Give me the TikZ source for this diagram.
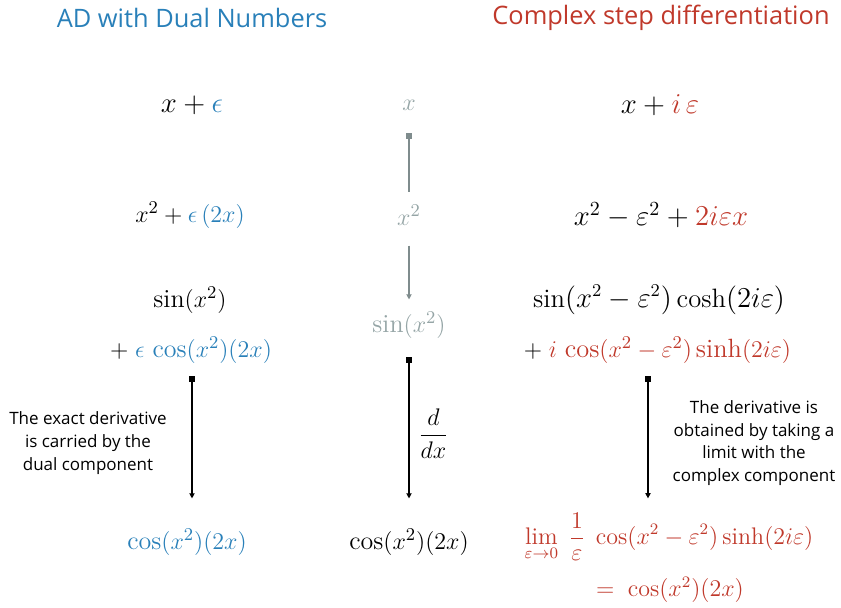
\documentclass[tikz,border=0pt]{standalone}
\usepackage{amsmath}
\usepackage{xcolor}
\usepackage{fontspec}
\setsansfont{Open Sans}
\usepackage{tikz}
\usetikzlibrary{arrows.meta}
\definecolor{ink}{RGB}{0,0,0}
\definecolor{dualblue}{RGB}{41,128,185}
\definecolor{cxred}{RGB}{192,57,43}
\definecolor{muted}{RGB}{149,165,166}
\definecolor{mutedline}{RGB}{127,140,141}
\tikzset{
  expr/.style     ={font=\fontsize{#1}{16}\selectfont, inner sep=2pt, align=center},
  expr/.default   =13,
  mutedexpr/.style={expr, color=muted},
  limexpr/.style  ={expr=12, color=cxred},
  title/.style    ={font=\sffamily\fontsize{12.7}{15}\selectfont},
  notelabel/.style={font=\sffamily\fontsize{8.5}{11.3}\selectfont, align=center, color=ink},
  arr/.style      ={{Square[length=3pt,width=3pt]}-{Triangle[length=2.6pt,width=2.6pt]},
                    line width=0.6pt, color=ink},
  grayarr/.style  ={line width=0.6pt, color=mutedline},
}

\begin{document}
\begin{tikzpicture}[x=0.5pt, y=-0.5pt]
\useasboundingbox (0,0) rectangle (841,607);

% headings
\node[title, color=dualblue] (dualtitle) at (192,18) {AD with Dual Numbers};
\node[title, color=cxred] (cxtitle) at (661,18) {Complex step differentiation};

% dual numbers column
\node[expr=13.8] (d1) at (192,105) {$x + \textcolor{dualblue}{\epsilon}$};
\node[expr=13.2] (d2) at (190,215) {$x^2 + \textcolor{dualblue}{\epsilon\,(2x)}$};
\node[expr] (d3) at (190,300) {$\sin(x^2)$};
\node[expr] (d3b) at (191,350) {$+\;\textcolor{dualblue}{\epsilon\,\cos(x^2)(2x)}$};
\node[expr, color=dualblue] (d4) at (187,542) {$\cos(x^2)(2x)$};

% plain column
\node[mutedexpr] (m1) at (409,105) {$x$};
\node[mutedexpr] (m2) at (409,215) {$x^2$};
\node[mutedexpr] (m3) at (409,325) {$\sin(x^2)$};
\node[expr] (m4) at (409,542) {$\cos(x^2)(2x)$};

% complex step column
\node[expr=13.7] (c1) at (660,105) {$x + \textcolor{cxred}{i\,\varepsilon}$};
\node[expr=14.4] (c2) at (661,215) {$x^2 - \varepsilon^2 + \textcolor{cxred}{2i\varepsilon x}$};
\node[expr=13.3] (c3) at (659,300) {$\sin(x^2 - \varepsilon^2)\cosh(2i\varepsilon)$};
\node[expr=13.2] (c3b) at (657.5,350)
  {$+\;\textcolor{cxred}{i\,\cos(x^2 - \varepsilon^2)\sinh(2i\varepsilon)}$};
\node[limexpr] (c4) at (669,537)
  {$\displaystyle\lim_{\varepsilon\to 0}\;\frac{1}{\varepsilon}\;\cos(x^2 - \varepsilon^2)\sinh(2i\varepsilon)$};
\node[limexpr] (c5) at (670,590) {$=\;\cos(x^2)(2x)$};
\coordinate (cxtop) at ([xshift=-4.75pt]c3b.south);

% connectors
\draw[grayarr, {Square[length=3pt,width=3pt]}-, shorten <=9pt, shorten >=4pt] (m1.south) -- (m2.north);
\draw[grayarr, -{Triangle[length=2.6pt,width=2.6pt]}, shorten <=8pt, shorten >=4pt] (m2.south) -- (m3.north);
\draw[arr, shorten <=4pt, shorten >=13pt] ([xshift=0.5pt]d3b.south) -- ([xshift=0.5pt]d3b.south |- d4.north);
\draw[arr, shorten <=7pt, shorten >=13pt] (m3.south) --
  node[right=1pt, color=ink, font=\fontsize{13}{16}\selectfont]{$\displaystyle\frac{d}{dx}$} (m4.north);
\draw[arr, shorten <=4pt, shorten >=5pt] (cxtop) -- (cxtop |- c4.north);

% notes
\node[notelabel] (dualnote) at (88,443)
  {The exact derivative\\is carried by the\\dual component};
\node[notelabel] (cxnote) at (754,443)
  {The derivative is\\obtained by taking a\\limit with the\\complex component};
\end{tikzpicture}
\end{document}
